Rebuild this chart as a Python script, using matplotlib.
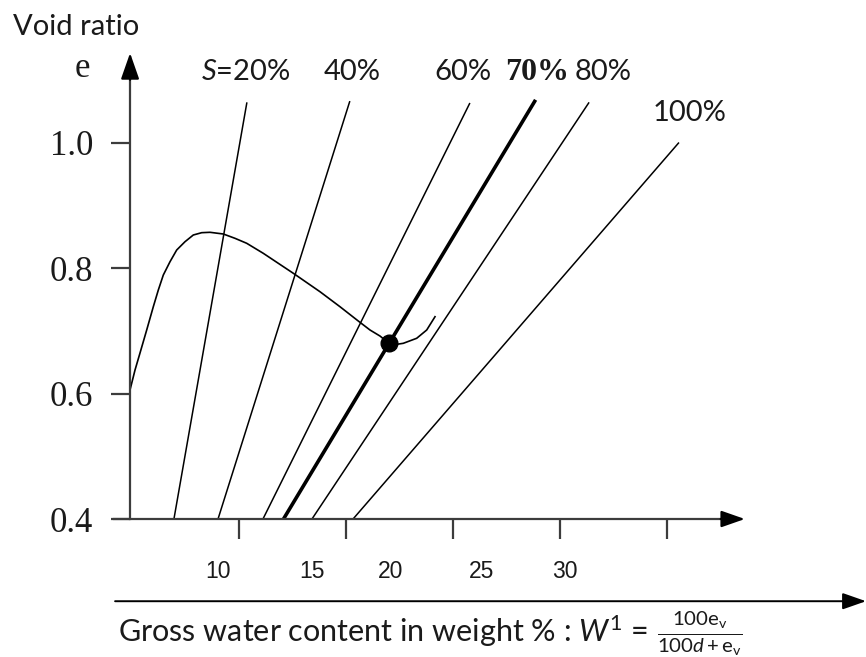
import matplotlib
matplotlib.use("Agg")
import matplotlib.pyplot as plt

plt.rcParams["mathtext.fontset"] = "custom"
plt.rcParams["mathtext.rm"] = "Lato"
plt.rcParams["mathtext.it"] = "Lato:italic"

# saturation lines: water content where each line meets e = 0.4, and its top end
sat_labels = ["$S$=20%", "40%", "60%", "70%", "80%", "100%"]
w_bottom = [6.95, 9.01, 11.11, 12.07, 13.40, 15.32]
w_top = [10.36, 15.17, 20.78, 23.85, 26.35, 30.55]
e_top = [1.064, 1.066, 1.063, 1.068, 1.064, 1.0]

# compaction curve
curve_w = [4.897, 5.131, 5.364, 5.677, 5.986, 6.220, 6.453, 6.766, 7.079, 7.467,
           7.855, 8.248, 8.636, 9.257, 9.804, 10.350, 11.126, 11.827, 12.528, 13.776,
           14.710, 15.565, 16.112, 16.579, 16.967, 17.360, 17.668, 18.294, 18.762, 19.150]
curve_e = [0.6056, 0.6374, 0.6645, 0.7012, 0.7383, 0.7649, 0.7888, 0.8100, 0.8287, 0.8419,
           0.8526, 0.8563, 0.8569, 0.8542, 0.8473, 0.8394, 0.8234, 0.8075, 0.7916, 0.7622,
           0.7383, 0.7155, 0.7012, 0.6916, 0.6810, 0.6784, 0.6800, 0.6880, 0.7012, 0.7224]
opt_w = 17.0
opt_e = 0.681

e_ticks = [0.4, 0.6, 0.8, 1.0]
e_tick_labels = ["0.4", "0.6", "0.8", "1.0"]
w_ticks = [10, 15, 20, 25, 30]
w_tick_labels = ["10", "15", "20", "25", "30"]

ink = "#1a1a1a"
axis_col = "#3c3c3c"

fig = plt.figure(figsize=(8.66, 6.57), dpi=100)
ax = fig.add_axes([0, 0, 1, 1])
ax.set_xlim(-1.178, 39.29)
ax.set_ylim(0.1801, 1.2271)

# saturation lines, 70% drawn heavy
for i, lab in enumerate(sat_labels):
    lw = 2.6 if lab == "70%" else 1.1
    ax.plot([w_bottom[i], w_top[i]], [0.4, e_top[i]], color="black", lw=lw,
            solid_capstyle="butt")

ax.plot(curve_w, curve_e, color="black", lw=1.2, solid_joinstyle="round")
ax.plot([opt_w], [opt_e], "o", color="black", ms=12)

# saturation labels
lab_x = [10.31, 15.29, 20.46, 23.92, 27.0, 31.06]
lab_y = [1.112, 1.112, 1.112, 1.112, 1.112, 1.047]
for i, lab in enumerate(sat_labels):
    if lab == "70%":
        ax.text(lab_x[i], lab_y[i], lab, fontsize=23, fontweight="bold",
                family="Liberation Serif", ha="center", va="center", color=ink)
    else:
        ax.text(lab_x[i], lab_y[i], lab, fontsize=21, family="Lato",
                ha="center", va="center", color=ink)

# axes
for s in ["top", "right"]:
    ax.spines[s].set_visible(False)
ax.spines["left"].set_position(("data", 4.9))
ax.spines["left"].set_bounds(0.4, 1.12)
ax.spines["bottom"].set_position(("data", 0.4))
ax.spines["bottom"].set_bounds(4.15, 33.0)
for s in ["left", "bottom"]:
    ax.spines[s].set_color(axis_col)
    ax.spines[s].set_linewidth(1.6)

ax.set_yticks(e_ticks)
ax.set_yticklabels(e_tick_labels, family="Liberation Serif", fontsize=25, color=ink)
ax.tick_params(axis="y", direction="out", length=13.7, width=1.6, pad=13, color=axis_col)
ax.set_xticks(w_ticks)
ax.set_xticklabels([])
ax.tick_params(axis="x", direction="out", length=14.4, width=1.6, color=axis_col)

# x tick numbers sit offset from the tick marks in the original
w_label_pos = [9.00, 13.39, 17.05, 21.33, 25.22]
for x, t in zip(w_label_pos, w_tick_labels):
    ax.text(x, 0.316, t, fontsize=16.5, family="Liberation Sans", ha="center",
            va="center", color=ink)

head = "-|>,head_length=0.8,head_width=0.28"
ax.annotate("", xy=(4.9, 1.1426), xytext=(4.9, 1.10),
            arrowprops=dict(arrowstyle=head, color="black", lw=1.6,
                            shrinkA=0, shrinkB=0, mutation_scale=20))
ax.annotate("", xy=(33.63, 0.4), xytext=(32.5, 0.4),
            arrowprops=dict(arrowstyle=head, color="black", lw=1.6,
                            shrinkA=0, shrinkB=0, mutation_scale=18))
ax.annotate("", xy=(39.29, 0.269), xytext=(4.20, 0.269),
            arrowprops=dict(arrowstyle=head, color="black", lw=1.4,
                            shrinkA=0, shrinkB=0, mutation_scale=18))

ax.text(2.37, 1.184, "Void ratio", fontsize=21, family="Lato", ha="center",
        va="center", color=ink)
ax.text(2.65, 1.118, "e", fontsize=25, family="Liberation Serif", ha="center",
        va="center", color=ink)

xlab = ax.text(4.34, 0.221, r"Gross water content in weight % : $W^1$ =",
               fontsize=22, family="Lato", ha="left", va="center", color=ink)
ax.annotate(r"$\frac{100\mathrm{e}_\mathrm{v}}{100d+\mathrm{e}_\mathrm{v}}$",
            xy=(1, 0.45), xycoords=xlab, xytext=(6, 0), textcoords="offset points",
            fontsize=21, family="Lato", ha="left", va="center", color=ink)

fig.savefig("out.png", dpi=100)
